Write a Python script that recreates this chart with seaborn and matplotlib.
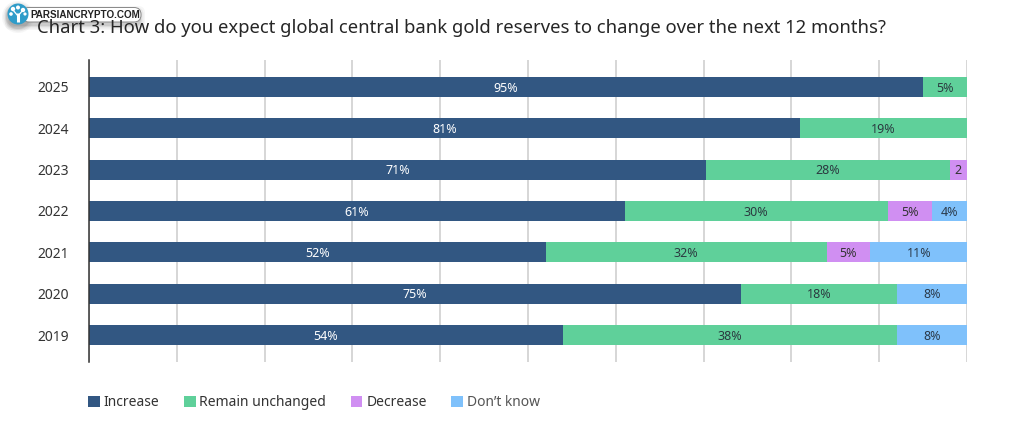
import numpy as np
import pandas as pd
import seaborn as sns
import matplotlib
matplotlib.use("Agg")
import matplotlib.pyplot as plt
from matplotlib.patches import Circle, FancyBboxPatch, Patch

years = ["2025", "2024", "2023", "2022", "2021", "2020", "2019"]
increase = [95, 81, 71, 61, 52, 75, 54]
unchanged = [5, 19, 28, 30, 32, 18, 38]
decrease = [0, 0, 2, 5, 5, 0, 0]
dont_know = [0, 0, 0, 4, 11, 8, 8]

series_names = ["Increase", "Remain unchanged", "Decrease", "Don\u2019t know"]
series_values = [increase, unchanged, decrease, dont_know]
series_colors = ["#325782", "#5fd09a", "#d08ff2", "#7fc1fb"]
label_colors = ["#ffffff", "#2b3a40", "#333333", "#2b3a4a"]
title = "Chart 3: How do you expect global central bank gold reserves to change over the next 12 months?"
brand = "PARSIANCRYPTO.COM"

sns.set_theme(style="white")
plt.rcParams["font.family"] = ["Noto Sans", "DejaVu Sans"]

W, H = 1024, 429
fig = plt.figure(figsize=(W / 100, H / 100), dpi=100, facecolor="white")
ax = fig.add_axes([89 / W, 1 - 362 / H, (967 - 89) / W, (362 - 60) / H])

# Each year is stacked to a full bar, so rows summing to 101 are rescaled.
values = np.array(series_values, dtype=float)
shares = values / values.sum(axis=0) * 100
left = np.zeros(len(years))
for name, share, raw, color, tcolor in zip(series_names, shares, values, series_colors, label_colors):
    frame = pd.DataFrame({"year": years, "share": share})
    sns.barplot(data=frame, y="year", x="share", order=years, color=color, width=0.48,
                left=left, saturation=1, errorbar=None, ax=ax, linewidth=0, zorder=3)
    container = ax.containers[-1]
    texts = ["" if v == 0 else (f"{v:.0f}%" if v >= 3 else f"{v:.0f}") for v in raw]
    annotations = ax.bar_label(container, labels=texts, label_type="center", color=tcolor,
                               fontsize=9, zorder=4)
    for note in annotations:
        note.xyann = (0, -0.8)
    left = left + share

ax.set_xlim(0, 100)
ax.set_ylim(6.65, -0.65)
ax.set_xticks(np.arange(0, 101, 10))
ax.set_xticklabels([])
ax.set_xlabel("")
ax.set_ylabel("")
ax.grid(axis="x", color="#cccccc", linewidth=1.1, zorder=0)
ax.set_axisbelow(True)
ax.tick_params(axis="x", length=0)
ax.tick_params(axis="y", length=0, pad=14.5, labelsize=10, labelcolor="#333333")
for side in ("top", "right", "bottom"):
    ax.spines[side].set_visible(False)
ax.spines["left"].set_color("#333333")
ax.spines["left"].set_linewidth(1.1)
ax.spines["left"].set_zorder(5)

fig.text(37 / W, 1 - 33 / H, title, fontsize=13.3, color="#262626", ha="left", va="baseline",
         fontweight=500)

# Legend row under the plot.
handles = [Patch(facecolor=c, edgecolor="none") for c in series_colors]
legend = fig.legend(handles, series_names, loc="center left", bbox_to_anchor=(75.5 / W, 1 - 403 / H),
                    ncol=4, frameon=False, fontsize=10, handlelength=0.85, handleheight=0.9,
                    handletextpad=0.28, columnspacing=1.75, labelcolor="#333333")
legend.get_texts()[3].set_color("#555555")

# Brand badge in the top-left corner.
overlay = fig.add_axes([0, 0, 1, 1], facecolor="none")
overlay.set_xlim(0, W)
overlay.set_ylim(H, 0)
overlay.axis("off")
for grow, alpha in zip((5, 3.5, 2, 1), (0.05, 0.07, 0.09, 0.12)):
    overlay.add_patch(FancyBboxPatch((10 - grow, 11 - grow), 130 + 2 * grow, 14 + 2 * grow,
                                     boxstyle="round,pad=0,rounding_size=7", facecolor="#555555",
                                     edgecolor="none", alpha=alpha))
    overlay.add_patch(Circle((18, 17), 11 + grow, facecolor="#555555", edgecolor="none", alpha=alpha))
overlay.add_patch(FancyBboxPatch((22, 7.5), 119, 14.5, boxstyle="round,pad=0,rounding_size=7",
                                 facecolor="white", edgecolor="#888888", linewidth=0.7))
overlay.add_patch(Circle((18, 14), 10.5, facecolor="#2f9cc9", edgecolor="none"))
overlay.plot([18, 18], [13, 22], color="white", linewidth=2.2, solid_capstyle="butt")
overlay.plot([13, 18, 23], [10, 16, 10], color="white", linewidth=0.9)
for cx, cy, r in [(13, 9, 2.2), (18, 7.5, 2.0), (23, 10, 2.2), (11, 14, 1.8), (25, 14, 1.6)]:
    overlay.add_patch(Circle((cx, cy), r, facecolor="white", edgecolor="none"))
overlay.text(30, 15.2, brand, family="Liberation Sans", fontsize=7.15, color="#222222",
             ha="left", va="center", fontweight="bold")

fig.savefig("out.png", dpi=100)
